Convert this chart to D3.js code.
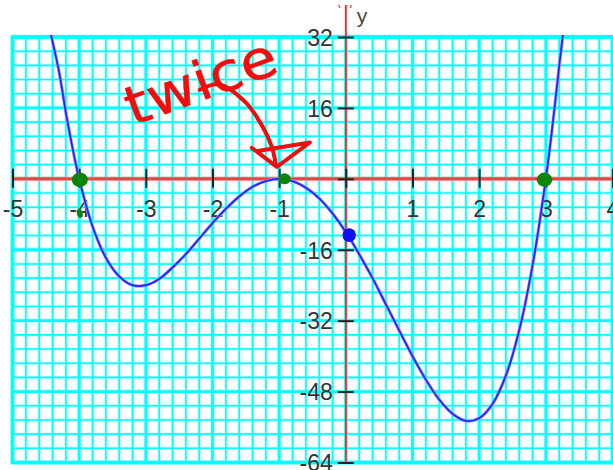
<!DOCTYPE html>
<html>
<head>
<meta charset="utf-8">
<script src="https://cdn.jsdelivr.net/npm/d3@7"></script>
<style>
  html, body { margin: 0; padding: 0; background: #fff; }
  svg { display: block; }
</style>
</head>
<body>
<svg id="chart" width="613" height="470"></svg>
<script>
// Tick labels along each axis (0 gets a tick but no label)
const xTicks = [-5, -4, -3, -2, -1, 0, 1, 2, 3, 4];
const yTicks = [32, 16, 0, -16, -32, -48, -64];

// Sampled points of the plotted quartic
const curveX = [-4.43, -4.3, -4.2, -4.1, -4.0, -3.8, -3.6, -3.4, -3.2, -3.0, -2.8, -2.6, -2.4, -2.2, -2.0,
                -1.8, -1.6, -1.4, -1.2, -1.0, -0.8, -0.6, -0.4, -0.2, 0.0, 0.2, 0.4, 0.6, 0.8, 1.0,
                1.2, 1.4, 1.6, 1.8, 2.0, 2.2, 2.4, 2.6, 2.8, 3.0, 3.1, 3.2, 3.26];
const curveY = [33, 24, 15, 7, 0, -10.7, -17.8, -22, -24, -24, -22.6, -20, -17, -13.5, -10,
                -6.8, -4, -1.8, -0.5, 0, -0.5, -2, -4.4, -7.8, -12, -17, -22.4, -28.3, -34.2, -40,
                -45.3, -49.8, -53, -54.6, -54, -50.8, -44.4, -34.2, -19.6, 0, 12, 25.4, 33];

// Hand-marked points: the zeros (green) and the y-intercept (blue)
const zeroDotsX = [-3.99, -0.92, 2.98];
const zeroDotsY = [-0.2, 0, -0.2];
const zeroDotsR = [8, 6.2, 7.8];
const interceptX = [0.05];
const interceptY = [-12.7];

// Hand-drawn arrow from the note down to the double root
const arrowX = [-2.19, -1.9, -1.5, -1.25, -1.11, -1.05];
const arrowY = [20.1, 21.3, 17.2, 11.8, 7.2, 3.2];
const headX = [-1.41, -1.035, -0.54, -1.32];
const headY = [7.0, 2.7, 8.2, 6.3];

const svg = d3.select("#chart");

const x = d3.scaleLinear().domain([-5, 4]).range([12.5, 612.5]);
const y = d3.scaleLinear().domain([-64, 32]).range([462.5, 37]);

// ---- graph-paper grid ----
const grid = svg.append("g");
const minorXs = d3.range(0, 46).map(i => -5 + i * 0.2);
const minorYs = d3.range(0, 31).map(i => -64 + i * 3.2);
const isMajorX = v => Math.abs(v - Math.round(v)) < 1e-6;
const isMajorY = v => Math.abs(v / 16 - Math.round(v / 16)) < 1e-6;

function gridLayer(color, minorW, majorW) {
  grid.selectAll(null).data(minorXs).join("line")
    .attr("x1", d => x(d)).attr("x2", d => x(d))
    .attr("y1", y(32) - 1).attr("y2", y(-64) + 1)
    .attr("stroke", color)
    .attr("stroke-width", d => isMajorX(d) ? majorW : minorW);
  grid.selectAll(null).data(minorYs).join("line")
    .attr("y1", d => y(d)).attr("y2", d => y(d))
    .attr("x1", x(-5) - 1).attr("x2", x(4) + 1)
    .attr("stroke", color)
    .attr("stroke-width", d => isMajorY(d) ? majorW : minorW);
}
gridLayer("#c4ffff", 3.4, 4.8);
gridLayer("#00ffff", 1.6, 2.8);
// plot border a little heavier
grid.append("rect")
  .attr("x", x(-5)).attr("y", y(32))
  .attr("width", x(4) - x(-5)).attr("height", y(-64) - y(32))
  .attr("fill", "none").attr("stroke", "#00ffff").attr("stroke-width", 3.6);

// ---- red axis lines ----
svg.append("line")
  .attr("x1", x(-5)).attr("x2", x(4)).attr("y1", y(0)).attr("y2", y(0))
  .attr("stroke", "#f47a7a").attr("stroke-width", 4);
svg.append("line")
  .attr("x1", x(-5)).attr("x2", x(4)).attr("y1", y(0)).attr("y2", y(0))
  .attr("stroke", "#ee3b3b").attr("stroke-width", 2);
svg.append("line")
  .attr("x1", x(0)).attr("x2", x(0)).attr("y1", 5).attr("y2", y(-64))
  .attr("stroke", "#ff2a2a").attr("stroke-width", 2);
// small marks at the top of the y axis
svg.append("line").attr("x1", x(0) - 7).attr("x2", x(0) - 6).attr("y1", 5).attr("y2", 8)
  .attr("stroke", "#ff5555").attr("stroke-width", 1.5);
svg.append("line").attr("x1", x(0) + 5).attr("x2", x(0) + 5).attr("y1", 5).attr("y2", 8)
  .attr("stroke", "#ff5555").attr("stroke-width", 1.5);

// ---- axes: ticks and labels ----
const labelFont = "'Liberation Sans', Arial, sans-serif";
const xAxis = d3.axisBottom(x).tickValues(xTicks)
  .tickFormat(d => d === 0 ? "" : String(d)).tickSize(9);
const gx = svg.append("g").attr("transform", `translate(0,${y(0)})`).call(xAxis);
gx.select(".domain").remove();
gx.selectAll(".tick line").attr("y1", -10).attr("y2", 9)
  .attr("stroke", "#222").attr("stroke-width", 2);
gx.selectAll(".tick text").attr("y", 38).attr("dy", null)
  .attr("font-family", labelFont).attr("font-size", 23).attr("fill", "#333");

const yAxis = d3.axisLeft(y).tickValues(yTicks)
  .tickFormat(d => d === 0 ? "" : String(d)).tickSize(8);
const gy = svg.append("g").attr("transform", `translate(${x(0)},0)`).call(yAxis);
gy.select(".domain").remove();
gy.selectAll(".tick line").attr("x1", -8).attr("x2", 8)
  .attr("stroke", "#222").attr("stroke-width", 2);
gy.selectAll(".tick text").attr("x", -13).attr("dy", "0.36em")
  .attr("font-family", labelFont).attr("font-size", 23).attr("fill", "#333");

svg.append("text").attr("x", x(0) + 11).attr("y", 23)
  .attr("font-family", labelFont).attr("font-size", 21).attr("fill", "#444")
  .text("y");

// ---- the curve ----
svg.append("clipPath").attr("id", "plot-clip").append("rect")
  .attr("x", x(-5)).attr("y", y(32) - 2)
  .attr("width", x(4) - x(-5)).attr("height", y(-64) - y(32) + 2);

const pts = curveX.map((v, i) => [v, curveY[i]]);
const line = d3.line().x(d => x(d[0])).y(d => y(d[1])).curve(d3.curveCatmullRom.alpha(0.5));
const curveG = svg.append("g").attr("clip-path", "url(#plot-clip)");
curveG.append("path").attr("d", line(pts))
  .attr("fill", "none").attr("stroke", "#9a9aff").attr("stroke-width", 3.2);
curveG.append("path").attr("d", line(pts))
  .attr("fill", "none").attr("stroke", "#2424ff").attr("stroke-width", 1.8);

// ---- hand-drawn marks ----
svg.selectAll(null).data(zeroDotsX).join("ellipse")
  .attr("cx", d => x(d)).attr("cy", (d, i) => y(zeroDotsY[i]))
  .attr("rx", (d, i) => zeroDotsR[i]).attr("ry", (d, i) => zeroDotsR[i] - 0.7)
  .attr("fill", "#0b850b");
// small stray stroke under the -4 root
svg.append("ellipse")
  .attr("cx", x(-3.99)).attr("cy", y(-7.8)).attr("rx", 2.8).attr("ry", 4.5)
  .attr("transform", `rotate(-15,${x(-3.99)},${y(-7.8)})`)
  .attr("fill", "#0b850b");
svg.selectAll(null).data(interceptX).join("circle")
  .attr("cx", d => x(d)).attr("cy", (d, i) => y(interceptY[i]))
  .attr("r", 6.8).attr("fill", "#0f0fef");

// note and arrow in red ink
const ink = "#f20d0d";
const arrowLine = d3.line().x(d => x(d[0])).y(d => y(d[1])).curve(d3.curveCatmullRom.alpha(0.5));
svg.append("path")
  .attr("d", arrowLine(arrowX.map((v, i) => [v, arrowY[i]])))
  .attr("fill", "none").attr("stroke", ink).attr("stroke-width", 4)
  .attr("stroke-linecap", "round");
svg.append("path")
  .attr("d", d3.line().x(d => x(d[0])).y(d => y(d[1])).curve(d3.curveLinear)(headX.map((v, i) => [v, headY[i]])))
  .attr("fill", "none").attr("stroke", ink).attr("stroke-width", 4)
  .attr("stroke-linecap", "round").attr("stroke-linejoin", "round");

svg.append("text")
  .attr("x", 207).attr("y", 99)
  .attr("transform", "rotate(-20,207,99)")
  .attr("text-anchor", "middle")
  .attr("font-family", "'DejaVu Sans', sans-serif")
  .attr("font-size", 54)
  .attr("textLength", 158).attr("lengthAdjust", "spacingAndGlyphs")
  .attr("fill", ink).attr("stroke", ink).attr("stroke-width", 0.5)
  .attr("stroke-linejoin", "round")
  .text("twice");
</script>
</body>
</html>
